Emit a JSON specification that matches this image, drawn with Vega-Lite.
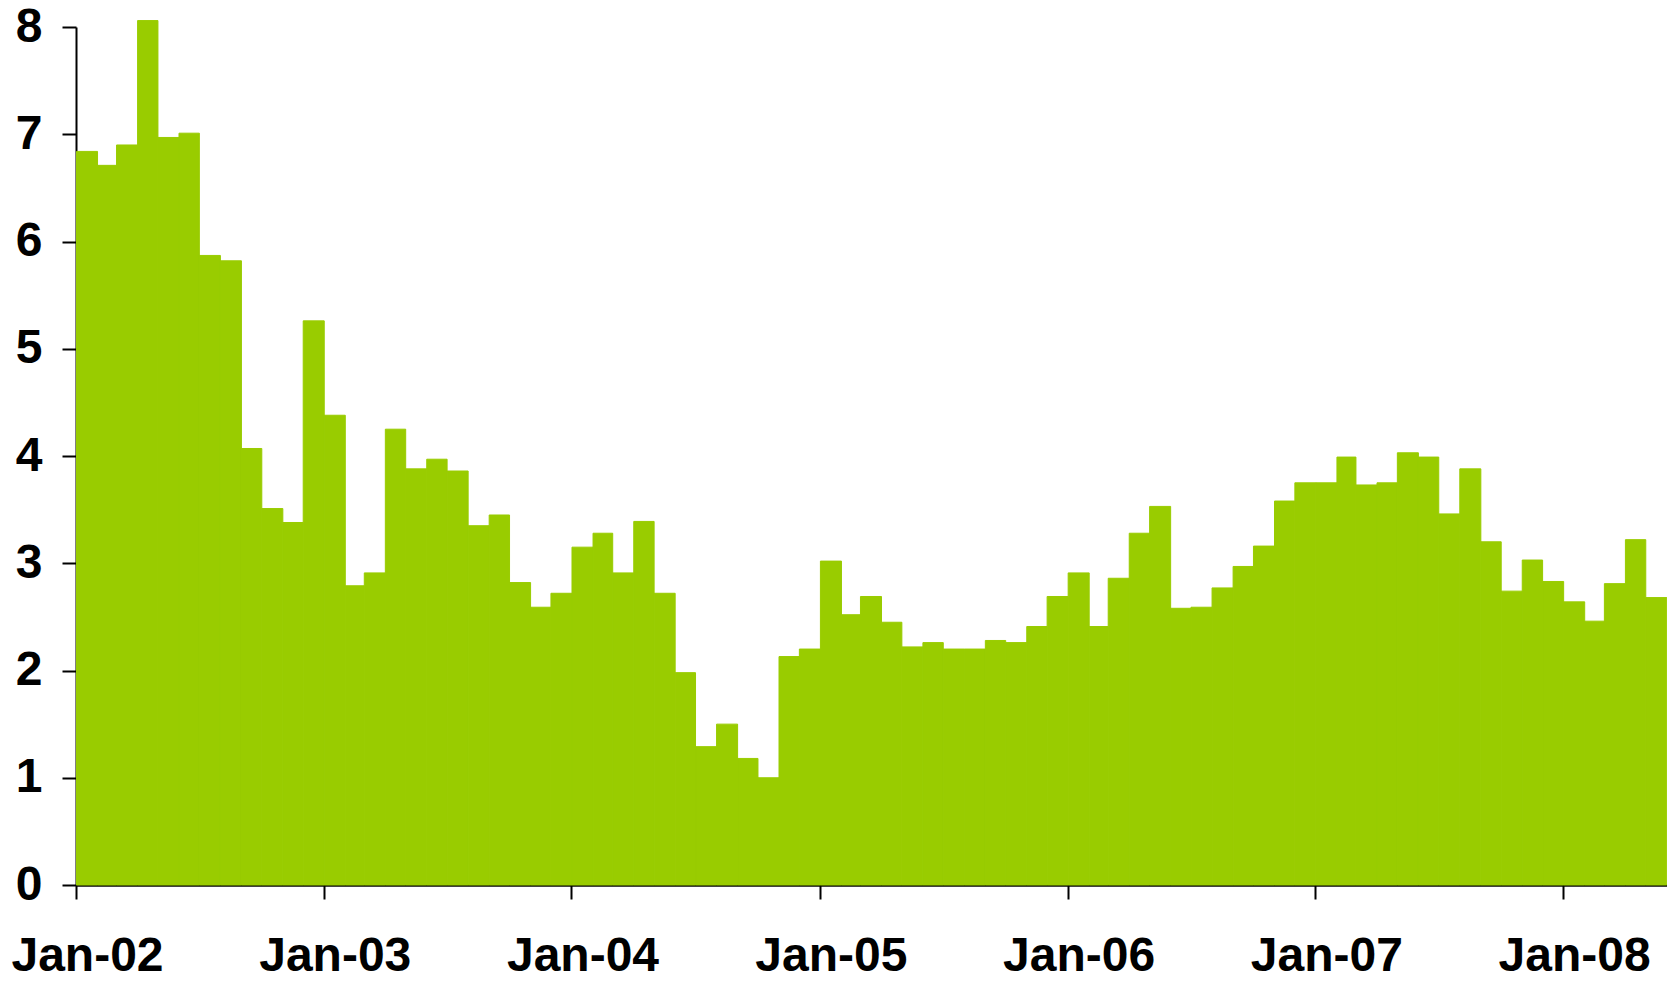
{
  "$schema": "https://vega.github.io/schema/vega-lite/v6.json",
  "autosize": {"type": "none"},
  "padding": {"left": 76, "top": 27, "right": 0, "bottom": 96},
  "width": 1591,
  "height": 858,
  "background": "white",
  "config": {"view": {"stroke": null}, "font": "Liberation Sans"},
  "data": {"values": [
    {"month": "2002-01-01", "value": 6.84}, {"month": "2002-02-01", "value": 6.71}, {"month": "2002-03-01", "value": 6.90}, {"month": "2002-04-01", "value": 8.06},
    {"month": "2002-05-01", "value": 6.97}, {"month": "2002-06-01", "value": 7.01}, {"month": "2002-07-01", "value": 5.87}, {"month": "2002-08-01", "value": 5.82},
    {"month": "2002-09-01", "value": 4.07}, {"month": "2002-10-01", "value": 3.51}, {"month": "2002-11-01", "value": 3.38}, {"month": "2002-12-01", "value": 5.26},
    {"month": "2003-01-01", "value": 4.38}, {"month": "2003-02-01", "value": 2.79}, {"month": "2003-03-01", "value": 2.91}, {"month": "2003-04-01", "value": 4.25},
    {"month": "2003-05-01", "value": 3.88}, {"month": "2003-06-01", "value": 3.97}, {"month": "2003-07-01", "value": 3.86}, {"month": "2003-08-01", "value": 3.35},
    {"month": "2003-09-01", "value": 3.45}, {"month": "2003-10-01", "value": 2.82}, {"month": "2003-11-01", "value": 2.59}, {"month": "2003-12-01", "value": 2.72},
    {"month": "2004-01-01", "value": 3.15}, {"month": "2004-02-01", "value": 3.28}, {"month": "2004-03-01", "value": 2.91}, {"month": "2004-04-01", "value": 3.39},
    {"month": "2004-05-01", "value": 2.72}, {"month": "2004-06-01", "value": 1.98}, {"month": "2004-07-01", "value": 1.29}, {"month": "2004-08-01", "value": 1.50},
    {"month": "2004-09-01", "value": 1.18}, {"month": "2004-10-01", "value": 1.00}, {"month": "2004-11-01", "value": 2.13}, {"month": "2004-12-01", "value": 2.20},
    {"month": "2005-01-01", "value": 3.02}, {"month": "2005-02-01", "value": 2.52}, {"month": "2005-03-01", "value": 2.69}, {"month": "2005-04-01", "value": 2.45},
    {"month": "2005-05-01", "value": 2.22}, {"month": "2005-06-01", "value": 2.26}, {"month": "2005-07-01", "value": 2.20}, {"month": "2005-08-01", "value": 2.20},
    {"month": "2005-09-01", "value": 2.28}, {"month": "2005-10-01", "value": 2.26}, {"month": "2005-11-01", "value": 2.41}, {"month": "2005-12-01", "value": 2.69},
    {"month": "2006-01-01", "value": 2.91}, {"month": "2006-02-01", "value": 2.41}, {"month": "2006-03-01", "value": 2.86}, {"month": "2006-04-01", "value": 3.28},
    {"month": "2006-05-01", "value": 3.53}, {"month": "2006-06-01", "value": 2.58}, {"month": "2006-07-01", "value": 2.59}, {"month": "2006-08-01", "value": 2.77},
    {"month": "2006-09-01", "value": 2.97}, {"month": "2006-10-01", "value": 3.16}, {"month": "2006-11-01", "value": 3.58}, {"month": "2006-12-01", "value": 3.75},
    {"month": "2007-01-01", "value": 3.75}, {"month": "2007-02-01", "value": 3.99}, {"month": "2007-03-01", "value": 3.73}, {"month": "2007-04-01", "value": 3.75},
    {"month": "2007-05-01", "value": 4.03}, {"month": "2007-06-01", "value": 3.99}, {"month": "2007-07-01", "value": 3.46}, {"month": "2007-08-01", "value": 3.88},
    {"month": "2007-09-01", "value": 3.20}, {"month": "2007-10-01", "value": 2.74}, {"month": "2007-11-01", "value": 3.03}, {"month": "2007-12-01", "value": 2.83},
    {"month": "2008-01-01", "value": 2.64}, {"month": "2008-02-01", "value": 2.46}, {"month": "2008-03-01", "value": 2.81}, {"month": "2008-04-01", "value": 3.22},
    {"month": "2008-05-01", "value": 2.68}
  ]},
  "mark": {"type": "bar", "color": "#99CC00", "binSpacing": 0, "stroke": "#99CC00", "strokeWidth": 1},
  "encoding": {
    "x": {
      "field": "month", "type": "temporal", "timeUnit": "utcyearmonth",
      "scale": {"type": "utc", "domain": [{"year": 2002, "month": 1, "date": 1, "utc": true}, {"year": 2008, "month": 6, "date": 2, "utc": true}]},
      "axis": {
        "title": null,
        "values": [
          {"year": 2002, "month": 1, "date": 1, "utc": true}, {"year": 2003, "month": 1, "date": 1, "utc": true},
          {"year": 2004, "month": 1, "date": 1, "utc": true}, {"year": 2005, "month": 1, "date": 1, "utc": true},
          {"year": 2006, "month": 1, "date": 1, "utc": true}, {"year": 2007, "month": 1, "date": 1, "utc": true},
          {"year": 2008, "month": 1, "date": 1, "utc": true}
        ],
        "labelExpr": "utcFormat(datum.value, '%b-%y')",
        "grid": false, "labelFlush": false, "labelOverlap": false, "labelLimit": 0,
        "labelFont": "Liberation Sans", "labelFontWeight": "bold", "labelFontSize": 48, "labelColor": "black",
        "labelPadding": 33, "labelOffset": 11, "labelBaseline": "top",
        "domainColor": "black", "domainWidth": 2.5, "tickColor": "black", "tickWidth": 2, "tickSize": 14
      }
    },
    "y": {
      "field": "value", "type": "quantitative",
      "scale": {"domain": [0, 8], "nice": false},
      "axis": {
        "title": null, "values": [0, 1, 2, 3, 4, 5, 6, 7, 8], "grid": false, "labelFlush": false,
        "labelFont": "Liberation Sans", "labelFontWeight": "bold", "labelFontSize": 48, "labelColor": "black",
        "labelPadding": 20, "domainColor": "black", "domainWidth": 2, "tickColor": "black", "tickWidth": 2, "tickSize": 14
      }
    }
  }
}
